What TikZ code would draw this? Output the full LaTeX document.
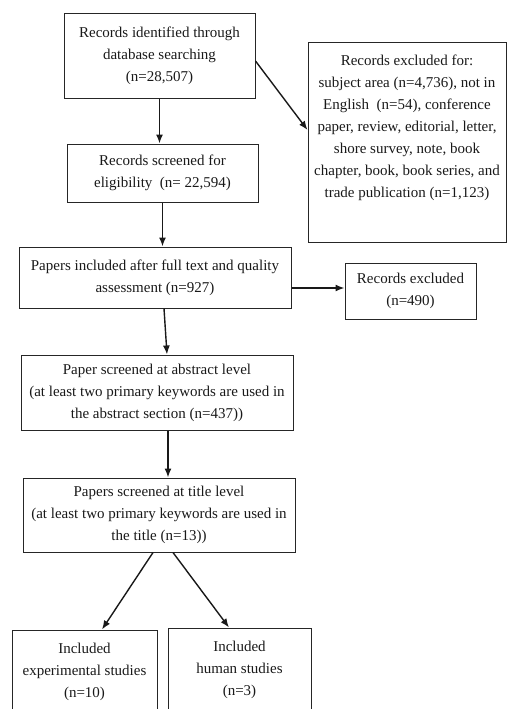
\documentclass[tikz,border=0pt]{standalone}
\usepackage{fontspec}
\setmainfont{Liberation Serif}
\usetikzlibrary{arrows.meta}
\tikzset{>={Latex[length=9pt,width=7pt]}}
\tikzset{
  flowbox/.style={draw=black!85, line width=1pt, inner sep=0pt, align=center,
    text=black!90, font=\fontsize{15}{22}\selectfont},
  flowarrow/.style={->, line width=1.4pt, black!90}}

\begin{document}
\begin{tikzpicture}[x=1pt,y=-1pt]
\useasboundingbox (0,0) rectangle (507,709);
\node[flowbox, minimum width=191, minimum height=84] (ident) at (159.5,56) {Records identified through\\database searching\\(n=28,507)};
\node[flowbox, minimum width=191, minimum height=58] (screen) at (162.5,173) {Records screened for\\eligibility~~(n= 22,594)};
\node[flowbox, minimum width=198, minimum height=199] (excl) at (407,142.5) {\parbox[c][175pt][t]{198pt}{\centering Records excluded for:\\subject area (n=4,736), not in\\English~~(n=54), conference\\paper, review, editorial, letter,\\shore survey, note, book\\chapter, book, book series, and\\trade publication (n=1,123)}};
\node[flowbox, minimum width=272, minimum height=61] (full) at (155,277.5) {Papers included after full text and quality\\assessment (n=927)};
\node[flowbox, minimum width=131, minimum height=56] (excltwo) at (410.5,291) {Records excluded\\(n=490)};
\node[flowbox, minimum width=272, minimum height=75] (abstract) at (157,392.5) {Paper screened at abstract level\\(at least two primary keywords are used in\\the abstract section (n=437))};
\node[flowbox, minimum width=272, minimum height=74] (title) at (159,515) {Papers screened at title level\\(at least two primary keywords are used in\\the title (n=13))};
\node[flowbox, minimum width=145, minimum height=84] (expt) at (84.5,672) {Included\\experimental studies\\(n=10)};
\node[flowbox, minimum width=143, minimum height=84] (human) at (239.5,670) {Included\\human studies\\(n=3)};
\coordinate (fullout) at ([yshift=-10.5pt]full.east);
\draw[flowarrow] (ident.south) -- (ident.south |- screen.north);
\draw[flowarrow] ([yshift=-5pt]ident.east) -- ([yshift=12.5pt]excl.west);
\draw[flowarrow] (screen.south) -- (screen.south |- full.north);
\draw[flowarrow] (fullout) -- (fullout -| excltwo.west);
\draw[flowarrow] ([xshift=9pt]full.south) -- ([xshift=10pt]abstract.north);
\draw[flowarrow] ([xshift=11pt]abstract.south) -- ([xshift=9pt]title.north);
\draw[flowarrow] ([xshift=-6pt]title.south) -- ([xshift=17.5pt]expt.north);
\draw[flowarrow] ([xshift=14pt]title.south) -- ([xshift=-10.5pt]human.north);
\end{tikzpicture}
\end{document}
